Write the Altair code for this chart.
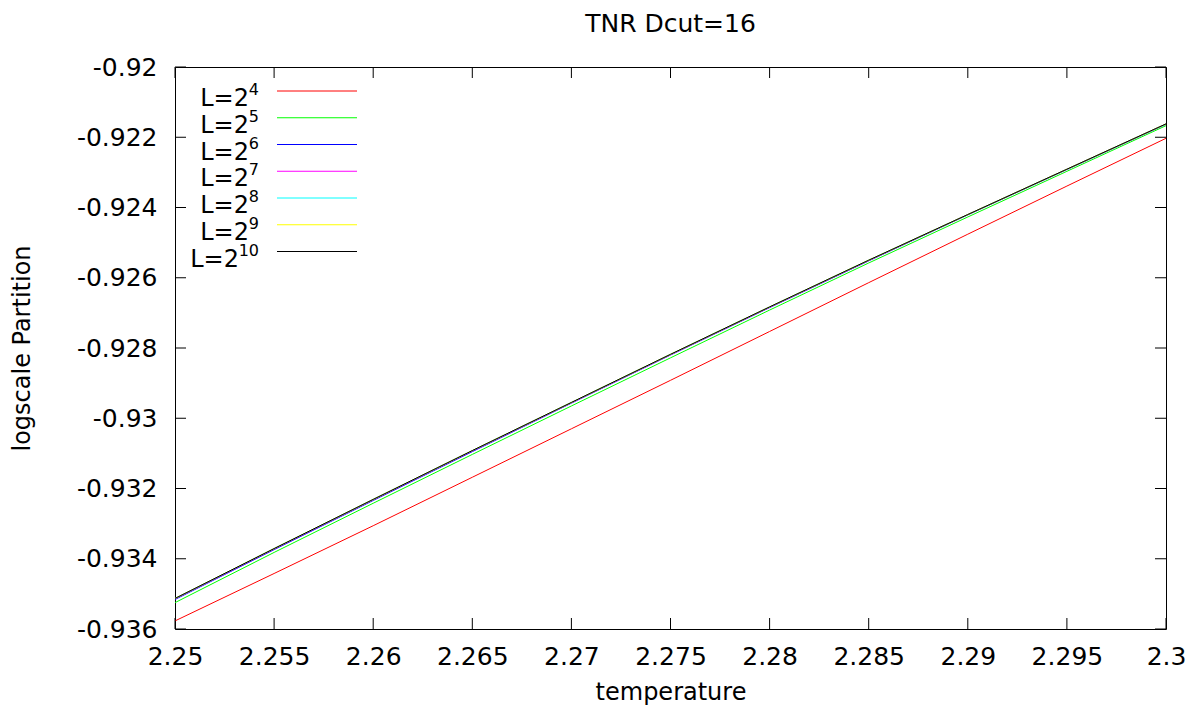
import altair as alt
import pandas as pd

# temperature grid
temperature = [2.250, 2.255, 2.260, 2.265, 2.270, 2.275, 2.280, 2.285, 2.290, 2.295, 2.300]

# system sizes L = 2^n
exponents = ["4", "5", "6", "7", "8", "9", "10"]
series_names = ["L=2^" + e for e in exponents]
series_colors = ["#ff0000", "#00ff00", "#0000ff", "#ff00ff", "#00ffff", "#ffff00", "#000000"]

# log partition per site for each system size
L4 = [-0.93577, -0.93442, -0.93306, -0.93168, -0.93030, -0.92892, -0.92753, -0.92614, -0.92476, -0.92339, -0.92203]
L5 = [-0.93525, -0.93382, -0.93242, -0.93103, -0.92965, -0.92828, -0.92692, -0.92558, -0.92427, -0.92297, -0.92167]
L6 = [-0.93516, -0.93374, -0.93234, -0.93095, -0.92957, -0.92820, -0.92685, -0.92552, -0.92421, -0.92292, -0.92163]
L7 = [-0.93514, -0.93372, -0.93232, -0.93093, -0.92956, -0.92819, -0.92684, -0.92551, -0.92420, -0.92291, -0.92162]
L8 = [-0.93513, -0.93371, -0.93231, -0.93092, -0.92955, -0.92818, -0.92683, -0.92550, -0.92420, -0.92291, -0.92162]
L9 = [-0.93513, -0.93371, -0.93231, -0.93092, -0.92955, -0.92818, -0.92683, -0.92550, -0.92420, -0.92291, -0.92162]
L10 = [-0.93513, -0.93371, -0.93231, -0.93092, -0.92955, -0.92818, -0.92683, -0.92550, -0.92420, -0.92291, -0.92162]

x_ticks = [2.25, 2.255, 2.26, 2.265, 2.27, 2.275, 2.28, 2.285, 2.29, 2.295, 2.3]
y_ticks = [-0.936, -0.934, -0.932, -0.93, -0.928, -0.926, -0.924, -0.922, -0.92]

FONT = "DejaVu Sans"
W, H = 991, 562
TICK = 11

rows = []
for order, (name, vals) in enumerate(zip(series_names, [L4, L5, L6, L7, L8, L9, L10])):
    for t, v in zip(temperature, vals):
        rows.append({"T": t, "logZ": v, "series": name, "order": order})
df = pd.DataFrame(rows)

xs = alt.Scale(domain=[2.25, 2.3], nice=False, zero=False)
ys = alt.Scale(domain=[-0.936, -0.92], nice=False, zero=False)
color_scale = alt.Scale(domain=series_names, range=series_colors)

fmt = "replace(format(datum.value, '~g'), '\u2212', '-')"
x_axis = alt.Axis(values=x_ticks, labelExpr=fmt, titleY=63, titleBaseline="middle",
                  labelPadding=15)

lines = alt.Chart(df).mark_line(strokeWidth=1, clip=True).encode(
    x=alt.X("T:Q", scale=xs, title="temperature", axis=x_axis),
    y=alt.Y("logZ:Q", scale=ys, title="logscale Partition",
            axis=alt.Axis(values=y_ticks, labelExpr=fmt, titleX=-153, titleY=H / 2,
                          titleBaseline="middle", labelPadding=18)),
    color=alt.Color("series:N", scale=color_scale, legend=None),
    order=alt.Order("order:Q"),
)

xt = pd.DataFrame({"v": x_ticks})
yt = pd.DataFrame({"v": y_ticks})

# inward ticks on all four sides
x_bottom = alt.Chart(xt).mark_rule(color="black").encode(
    x=alt.X("v:Q", scale=xs, title="temperature", axis=x_axis),
    y=alt.value(H), y2=alt.value(H - TICK))
x_top = alt.Chart(xt).mark_rule(color="black").encode(
    x=alt.X("v:Q", scale=xs, title="temperature", axis=x_axis),
    y=alt.value(0), y2=alt.value(TICK))
y_left = alt.Chart(yt).mark_rule(color="black").encode(
    y=alt.Y("v:Q", scale=ys, axis=None), x=alt.value(0), x2=alt.value(TICK))
y_right = alt.Chart(yt).mark_rule(color="black").encode(
    y=alt.Y("v:Q", scale=ys, axis=None), x=alt.value(W), x2=alt.value(W - TICK))

# key in the upper-left corner: label on the left, line sample on the right
key = pd.DataFrame({
    "series": series_names,
    "row": list(range(len(exponents))),
    "base": ["L=2"] * len(exponents),
    "sup": exponents,
})
key_y = alt.Y("row:Q", scale=alt.Scale(domain=[0, len(exponents) - 1], range=[24, 184.5],
                                       nice=False, zero=False), axis=None)
key_lines = alt.Chart(key).mark_rule(strokeWidth=1).encode(
    y=key_y, x=alt.value(102), x2=alt.value(182),
    color=alt.Color("series:N", scale=color_scale, legend=None))
key_sup = alt.Chart(key).mark_text(align="right", baseline="alphabetic", dy=4, font=FONT,
                                   fontSize=16, color="black").encode(
    y=key_y, x=alt.value(84), text="sup:N")
key_base_1 = alt.Chart(key).transform_filter("length(datum.sup) == 1").mark_text(
    align="right", baseline="alphabetic", dy=15, font=FONT, fontSize=24, color="black"
).encode(y=key_y, x=alt.value(74), text="base:N")
key_base_2 = alt.Chart(key).transform_filter("length(datum.sup) == 2").mark_text(
    align="right", baseline="alphabetic", dy=15, font=FONT, fontSize=24, color="black"
).encode(y=key_y, x=alt.value(64), text="base:N")

chart = alt.layer(
    lines, x_bottom, x_top, y_left, y_right, key_lines, key_sup, key_base_1, key_base_2
).resolve_scale(
    y="independent"
).properties(
    width=W, height=H,
    title=alt.Title("TNR Dcut=16", font=FONT, fontSize=25, fontWeight="normal",
                    offset=18, color="#000000"),
    autosize=alt.AutoSizeParams(type="none"),
    padding={"left": 175, "top": 67, "right": 28, "bottom": 82},
    background="white",
).configure_view(
    stroke="black", strokeWidth=1
).configure_axis(
    domain=False, ticks=False, grid=False, labelFlush=False,
    labelFont=FONT, labelFontSize=25, labelColor="#000000",
    titleFont=FONT, titleFontSize=24, titleFontWeight="normal", titleColor="#000000",
)

chart.save("out.html", embed_options={"renderer": "svg", "actions": False})
